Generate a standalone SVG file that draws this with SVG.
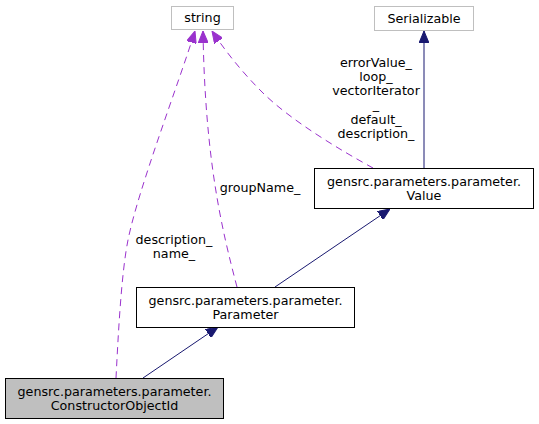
<svg xmlns="http://www.w3.org/2000/svg" width="539" height="424" viewBox="0 0 539 424">
<style>
text{font-family:"DejaVu Sans",sans-serif;font-size:12.7px;fill:#000;text-anchor:middle}
.ext{fill:#fff;stroke:#bfbfbf;stroke-width:1}
.cls{fill:#fff;stroke:#000;stroke-width:1}
.cur{fill:#bfbfbf;stroke:#000;stroke-width:1}
.inh{fill:none;stroke:#191970;stroke-width:1}
.use{fill:none;stroke:#9a32cd;stroke-width:1;stroke-dasharray:7,5}
</style>
<defs>
<marker id="an" markerUnits="userSpaceOnUse" markerWidth="12" markerHeight="10" refX="12" refY="5" orient="auto" viewBox="0 0 12 10"><path d="M0,0 L12,5 L0,10 z" fill="#191970" stroke="#191970"/></marker>
<marker id="ap" markerUnits="userSpaceOnUse" markerWidth="12" markerHeight="10" refX="12" refY="5" orient="auto" viewBox="0 0 12 10"><path d="M0,0 L12,5 L0,10 z" fill="#9a32cd" stroke="#9a32cd"/></marker>
</defs>
<g id="edges">
<path class="inh" d="M424,168 L424,31" marker-end="url(#an)"/>
<path class="inh" d="M275,287 L390,209" marker-end="url(#an)"/>
<path class="inh" d="M143,378 L218,327" marker-end="url(#an)"/>
<path class="use" d="M116,378 C118,340 121,275 128,240 C138,190 178,85 195,31" marker-end="url(#ap)"/>
<path class="use" d="M237,287 C222,230 205,160 203,31" marker-end="url(#ap)"/>
<path class="use" d="M373,168 C340,150 290,120 262,92 C242,72 226,52 212,31" marker-end="url(#ap)"/>
<text x="174" y="244">description_</text>
<text x="174" y="258">name_</text>
<text x="260" y="192">groupName_</text>
<text x="376" y="67">errorValue_</text>
<text x="376" y="81">loop_</text>
<text x="376" y="95">vectorIterator</text>
<text x="376" y="109">_</text>
<text x="376" y="124">default_</text>
<text x="376" y="138">description_</text>
</g>
<g id="string">
<rect class="ext" x="171.5" y="6.5" width="62" height="23"/>
<text x="202.5" y="22">string</text>
</g>
<g id="serializable">
<rect class="ext" x="374.5" y="6.5" width="99" height="24"/>
<text x="424" y="22.5">Serializable</text>
</g>
<g id="value">
<rect class="cls" x="314.5" y="168.5" width="219" height="40"/>
<text x="424" y="185.5">gensrc.parameters.parameter.</text>
<text x="424" y="199.5">Value</text>
</g>
<g id="parameter">
<rect class="cls" x="136.5" y="287.5" width="218" height="40"/>
<text x="245.5" y="304.5">gensrc.parameters.parameter.</text>
<text x="245.5" y="318.5">Parameter</text>
</g>
<g id="constructorobjectid">
<rect class="cur" x="5.5" y="378.5" width="218" height="40"/>
<text x="114.5" y="395.5">gensrc.parameters.parameter.</text>
<text x="114.5" y="409.5">ConstructorObjectId</text>
</g>
</svg>
